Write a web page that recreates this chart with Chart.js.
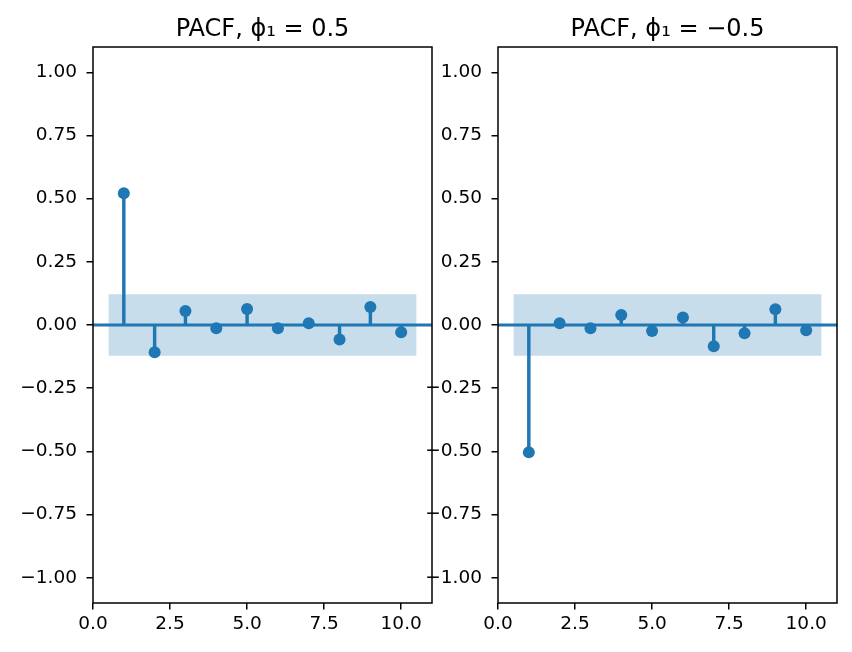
<!DOCTYPE html>
<html>
<head>
<meta charset="utf-8">
<script src="https://cdn.jsdelivr.net/npm/chart.js@4"></script>
<style>
    body { margin: 0; background: #fff; }
    #painel { position: relative; width: 852px; height: 652px; }
    canvas { position: absolute; top: 0; }
</style>
</head>
<body>
<div id="painel">
    <canvas id="pacfPos" width="440" height="652" style="left:0"></canvas>
    <canvas id="pacfNeg" width="442" height="652" style="left:410px"></canvas>
</div>
<script>
// Dados
const lags = [1, 2, 3, 4, 5, 6, 7, 8, 9, 10];
const pacfPos = [0.521, -0.108, 0.055, -0.013, 0.063, -0.013, 0.007, -0.057, 0.071, -0.029];
const pacfNeg = [-0.504, 0.007, -0.013, 0.040, -0.024, 0.030, -0.084, -0.033, 0.062, -0.021];
const confLimit = 0.122;
const confLags = [0.5, 10.5];
const xRange = [0, 11];
const yRange = [-1.1, 1.1];
const xTicks = [0, 2.5, 5, 7.5, 10];
const yTicks = [-1, -0.75, -0.5, -0.25, 0, 0.25, 0.5, 0.75, 1];
const titles = ['PACF, \u03D5\u2081 = 0.5', 'PACF, \u03D5\u2081 = \u22120.5'];

const BLUE = '#1f77b4';
const BAND = 'rgba(31, 119, 180, 0.25)';
const fonte = { family: 'DejaVu Sans', size: 18.5 };

function fmt(v, casas) {
    const s = Math.abs(v).toFixed(casas);
    return v < -1e-9 ? '\u2212' + s : s;
}

// Moldura completa dos eixos (as quatro bordas)
const moldura = {
    id: 'moldura',
    afterDraw(chart) {
        const { ctx, chartArea: a } = chart;
        ctx.save();
        ctx.strokeStyle = '#000';
        ctx.lineWidth = 1.5;
        ctx.strokeRect(a.left, a.top, a.right - a.left, a.bottom - a.top);
        ctx.restore();
    }
};

function desenharPacf(id, valores, titulo, larguraY, padDireita) {
    const ctx = document.getElementById(id).getContext('2d');
    const tickGrid = { drawOnChartArea: false, drawTicks: true, tickLength: 6.5, color: '#000', lineWidth: 1.5, offset: false };
    new Chart(ctx, {
        type: 'scatter',
        data: {
            datasets: [
                {
                    type: 'line',
                    data: confLags.map(x => ({ x: x, y: confLimit })),
                    fill: '+1',
                    backgroundColor: BAND,
                    borderWidth: 0,
                    pointRadius: 0,
                    order: 5
                },
                {
                    type: 'line',
                    data: confLags.map(x => ({ x: x, y: -confLimit })),
                    fill: false,
                    borderWidth: 0,
                    pointRadius: 0,
                    order: 5
                },
                {
                    type: 'line',
                    data: xRange.map(x => ({ x: x, y: 0 })),
                    borderColor: BLUE,
                    borderWidth: 2.8,
                    pointRadius: 0,
                    order: 3
                },
                {
                    type: 'bar',
                    data: lags.map((l, i) => ({ x: l, y: [0, valores[i]] })),
                    backgroundColor: BLUE,
                    barThickness: 2.8,
                    order: 2
                },
                {
                    type: 'scatter',
                    data: lags.map((l, i) => ({ x: l, y: valores[i] })),
                    backgroundColor: BLUE,
                    borderWidth: 0,
                    pointRadius: 6,
                    order: 1
                }
            ]
        },
        options: {
            responsive: false,
            animation: false,
            devicePixelRatio: 1,
            layout: { padding: { left: 0, right: padDireita, top: 0, bottom: 0 } },
            plugins: {
                legend: { display: false },
                tooltip: { enabled: false },
                title: {
                    display: true,
                    text: titulo,
                    fullSize: false,
                    color: '#000',
                    font: { family: 'DejaVu Sans', size: 24, weight: 'normal' },
                    padding: { top: 15, bottom: 3.2 }
                }
            },
            scales: {
                x: {
                    type: 'linear',
                    min: xRange[0],
                    max: xRange[1],
                    offset: false,
                    afterBuildTicks: s => { s.ticks = xTicks.map(v => ({ value: v })); },
                    afterFit: s => { s.height = 49; },
                    grid: tickGrid,
                    border: { display: false },
                    ticks: { color: '#000', font: fonte, padding: 4, maxRotation: 0, autoSkip: false, callback: v => fmt(v, 1) }
                },
                y: {
                    type: 'linear',
                    min: yRange[0],
                    max: yRange[1],
                    afterBuildTicks: s => { s.ticks = yTicks.map(v => ({ value: v })); },
                    afterFit: s => { s.width = larguraY; },
                    grid: tickGrid,
                    border: { display: false },
                    ticks: { color: '#000', font: fonte, padding: 9.5, autoSkip: false, callback: v => fmt(v, 2) }
                }
            }
        },
        plugins: [moldura]
    });
}

desenharPacf('pacfPos', pacfPos, titles[0], 93, 8);
desenharPacf('pacfNeg', pacfNeg, titles[1], 88, 15);
</script>
</body>
</html>
